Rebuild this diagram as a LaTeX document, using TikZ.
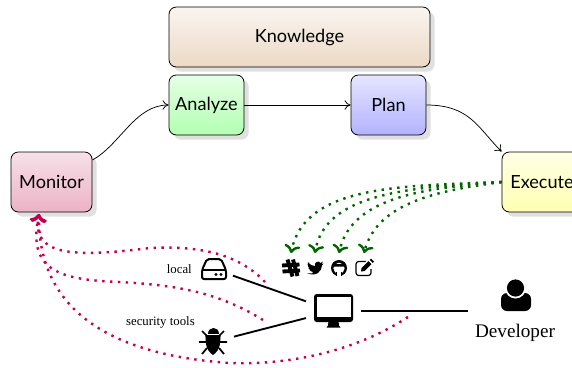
\documentclass[tikz,border=0pt]{standalone}
\usepackage{fontspec}
\setmainfont{Liberation Serif}
\newfontfamily\boxfont{Lato}
\usetikzlibrary{shadows,arrows.meta}
\definecolor{dgreen}{HTML}{006400}
\definecolor{dred}{HTML}{C2004F}
\tikzset{
  mape/.style={draw=black,rounded corners=5.5pt,line width=.6pt,font=\boxfont\fontsize{13.6}{15}\selectfont,
    inner sep=0pt,minimum height=45pt,drop shadow={shadow xshift=3.5pt,shadow yshift=-3.5pt,fill=black!12,opacity=1}},
  flow/.style={-{To[length=4.5pt,width=7pt]},line width=.55pt},
  probe/.style={-{To[length=6pt,width=12pt,line width=1.8pt]},dgreen,line width=1.8pt,dash pattern=on 1.8pt off 4.1pt},
  feed/.style={-{To[length=6pt,width=12pt,line width=1.8pt]},dred,line width=1.8pt,dash pattern=on 1.8pt off 4.1pt},
  wire/.style={line width=1.4pt},
  icon/.style={inner sep=0pt,outer sep=0pt},
  lab/.style={font=\fontsize{9.6}{11}\selectfont,inner sep=0pt},
}
\begin{document}
\begin{tikzpicture}[x=.75pt,y=-.75pt]
\useasboundingbox (0,0) rectangle (572,368);
\node[mape,minimum width=195.75pt,bottom color=brown!30!white,top color=brown!8!white] (know) at (299.5,37) {Knowledge};
\node[mape,minimum width=56.25pt,top color=green!10!white,bottom color=green!30!white] (analyze) at (206.5,105) {Analyze};
\node[mape,minimum width=56.25pt,top color=blue!10!white,bottom color=blue!30!white] (plan) at (388.5,105) {Plan};
\node[mape,minimum width=60.75pt,top color=purple!12!white,bottom color=purple!30!white] (monitor) at (51.5,182) {Monitor};
\node[mape,minimum width=60pt,top color=yellow!10!white,bottom color=yellow!30!white] (exec) at (542,182) {Execute};

\draw[flow] (monitor.east |- 0,160) .. controls (120,145) and (135,105) .. (analyze.west);
\draw[flow] (analyze.east) -- (plan.west);
\draw[flow] (plan.east) .. controls (470,105) and (478,128) .. (exec.north west);

% icon holders
\node[icon,minimum width=38pt*.75,minimum height=22pt*.75] (hdd) at (214,269) {};
\node[icon,minimum width=42pt*.75,minimum height=28pt*.75] (bug) at (213,342) {};
\node[icon,minimum width=55pt*.75,minimum height=34pt*.75] (screen) at (333.5,311) {};
\node[icon,minimum width=96pt*.75,minimum height=44pt*.75] (person) at (516,311) {};
\node[icon,minimum width=18pt*.75,minimum height=30pt*.75] (slack) at (291,268) {};
\node[icon,minimum width=18pt*.75,minimum height=30pt*.75] (bird) at (315,268) {};
\node[icon,minimum width=18pt*.75,minimum height=30pt*.75] (hub) at (339,268) {};
\node[icon,minimum width=18pt*.75,minimum height=30pt*.75] (edit) at (364,268) {};

\node[lab,anchor=east] (llocal) at (192,269) {local};
\node[lab,anchor=east] (lsec) at (195,322.5) {security tools};
\node[inner sep=0pt,font=\fontsize{14.4}{16}\selectfont] (ldev) at (515,333) {Developer};

% wires
\draw[wire] (hdd) -- (screen);
\draw[wire] (bug) -- (screen);
\draw[wire] (screen) -- (person);

% green probes
\draw[probe] (exec.west) .. controls (400,186) and (305,185) .. (slack.north);
\draw[probe] (exec.west) .. controls (415,187) and (325,192) .. (bird.north);
\draw[probe] (exec.west) .. controls (430,188) and (352,195) .. (hub.north);
\draw[probe] (exec.west) .. controls (445,190) and (378,200) .. (edit.north);

% red feedback
\coordinate (fa) at (265,282);
\coordinate (fb) at (263,320);
\coordinate (fc) at (408,317);
\coordinate (mon) at (39,214);
\draw[feed] (fa) .. controls (235,250) and (190,246) .. (150,248) .. controls (70,258) and (32,255) .. (mon);
\draw[feed] (fb) .. controls (215,290) and (170,285) .. (120,282) .. controls (55,280) and (28,268) .. (mon);
\draw[feed] (fc) .. controls (350,355) and (280,365) .. (230,363) .. controls (110,355) and (38,310) .. (mon);

% hdd icon
\begin{scope}[shift={(hdd)},line width=1.5pt,line join=round]
\draw[rounded corners=1.5pt] (-12,1) -- (-7,-10) -- (7,-10) -- (12,1) -- (12,10) -- (-12,10) -- cycle;
\draw (-12,1) -- (12,1);
\fill (2,5.5) circle [radius=1.7] (7,5.5) circle [radius=1.7];
\end{scope}
% screen icon
\begin{scope}[shift={(screen)}]
\fill[rounded corners=2pt] (-19.5,-17) rectangle (19.5,11);
\fill[white] (-17,-14.5) rectangle (17,6);
\fill (-5,10) -- (5,10) -- (5.5,14.5) -- (7,16.5) -- (-7,16.5) -- (-5.5,14.5) -- cycle;
\end{scope}
% bug icon
\begin{scope}[shift={(bug)}]
\draw[line width=1.3pt] (-14,0) -- (14,0) (-6,-6) -- (-11,-11) (6,-6) -- (11,-11) (-6,6) -- (-11,12) (6,6) -- (11,12);
\fill (-7.5,-7) .. controls (-7.5,-2) and (-8,8) .. (0,13) .. controls (8,8) and (7.5,-2) .. (7.5,-7) -- cycle;
\fill (-5.5,-8) .. controls (-5.5,-16) and (5.5,-16) .. (5.5,-8) -- cycle;
\end{scope}
% person icon
\begin{scope}[shift={(person)}]
\fill[rounded corners=4.5pt] (-15,0) -- (-15,-18) -- (15,-18) -- (15,0) -- cycle;
\fill[white] (-.5,-23) circle [radius=10.5];
\fill (-.5,-23) circle [radius=8.6];
\end{scope}
% hash icon
\begin{scope}[shift={(slack)},line width=2.9pt]
\draw (-3.5,-8.5) -- (1.5,8.5) (2,-8.5) -- (6.5,8) (-9,-2.5) -- (8.5,-3.5) (-8.5,3.5) -- (9,2.5);
\end{scope}
% bird icon
\begin{scope}[shift={(bird)}]
\fill (-8,5) .. controls (-3,6) and (-1,5) .. (-2,4) .. controls (-5,4) and (-5,2) .. (-5,2)
 .. controls (-6,2) and (-7,-1) .. (-6.5,-1) .. controls (-7,-2) and (-8,-4) .. (-7,-6)
 .. controls (-5,-3) and (-2,-2) .. (0,-2) .. controls (-1,-6) and (4,-8) .. (5.5,-5)
 .. controls (7,-5.5) and (7.5,-6) .. (8,-6.5) .. controls (7.5,-5.5) and (7,-4.5) .. (6.5,-4)
 .. controls (7.5,-4) and (8,-4.5) .. (8.5,-4.5) .. controls (8,-3.5) and (7,-3) .. (7,-2.5)
 .. controls (7,3) and (1,9.5) .. (-8,5) -- cycle;
\end{scope}
% github icon
\begin{scope}[shift={(hub)}]
\fill (0,0) circle [radius=8];
\fill[white] (0,.3) circle [radius=5.6];
\fill[white] (-2.6,4) rectangle (2.6,8.5);
\fill (-5.2,-5) -- (-2,-4) -- (2,-4) -- (5.2,-5) -- (5.6,-1.5) -- (-5.6,-1.5) -- cycle;
\fill (-1.8,3.5) rectangle (-2.8,8);
\fill (1.8,3.5) rectangle (2.8,8);
\end{scope}
% edit icon
\begin{scope}[shift={(edit)},line join=round]
\draw[line width=.9pt,rounded corners=2pt] (4,-6.5) -- (-8,-6.5) -- (-8,7.5) -- (7,7.5) -- (7,1);
\fill[white] (-4,4.5) -- (-3.5,-1) -- (5,-9.5) -- (10,-4.5) -- (1.5,4) -- cycle;
\fill (-3,3.5) -- (-2.5,0) -- (4.5,-7) -- (7.5,-4) -- (0.5,3) -- cycle;
\fill (5.7,-8.2) -- (7,-9.5) -- (10,-6.5) -- (8.7,-5.2) -- cycle;
\end{scope}
\end{tikzpicture}
\end{document}
